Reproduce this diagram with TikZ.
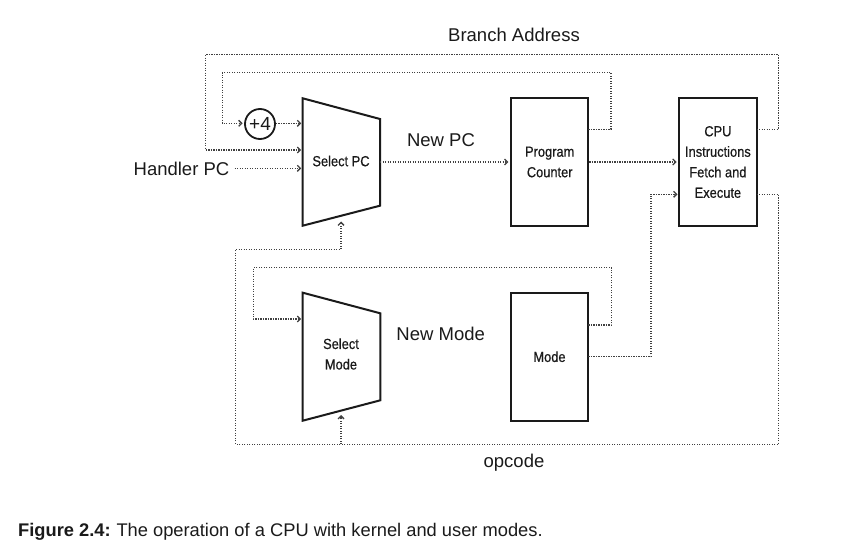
\documentclass[tikz,border=0pt]{standalone}
\usepackage{fontspec}
\setmainfont{Liberation Sans}
\newfontfamily\narrowfont[FakeStretch=0.88,FakeBold=0.6]{Liberation Sans}
\usetikzlibrary{arrows.meta}
\definecolor{ink}{HTML}{1A1A1A}
\definecolor{dotc}{HTML}{404040}
\tikzset{
  x=1bp, y=-1bp,
  blk/.style={draw=ink, line width=2bp},
  boxnode/.style={blk, minimum width=77.5bp, minimum height=127.4bp, inner sep=0pt,
    font=\narrowfont\fontsize{14.6bp}{20.5bp}\selectfont, align=center, text=ink},
  lbl/.style={font=\fontsize{18.5bp}{22bp}\selectfont, text=ink, inner sep=0pt},
  mlbl/.style={font=\narrowfont\fontsize{14.6bp}{20.5bp}\selectfont, text=ink, align=center, inner sep=0pt},
  conn/.style={draw=dotc, line width=1.3bp, dash pattern=on 1.2bp off 1.3bp,
    -{Straight Barb[length=3bp,width=6bp,line width=1.3bp]}, shorten >=1.5bp},
}
\begin{document}
\begin{tikzpicture}
\useasboundingbox (0,0) rectangle (845,559);

% Select PC trapezoid
\coordinate (spcTL) at (302.7,98.3);
\coordinate (spcTR) at (380,119);
\coordinate (spcBR) at (380,205.7);
\coordinate (spcBL) at (302.7,225.7);
\draw[blk, line join=miter] (spcTL) -- (spcTR) -- (spcBR) -- (spcBL) -- cycle;
\node[mlbl] (spc) at (341,161) {Select PC};
\coordinate (spcIn1) at (302.7,123.3);
\coordinate (spcIn2) at (302.7,150);
\coordinate (spcIn3) at (302.7,168.3);
\coordinate (spcOut) at (380,162);
\coordinate (spcBot) at (341,220);

% Select Mode trapezoid
\coordinate (smTL) at (302.7,292.7);
\coordinate (smTR) at (380.3,313.3);
\coordinate (smBR) at (380.3,400.3);
\coordinate (smBL) at (302.7,420.7);
\draw[blk, line join=miter] (smTL) -- (smTR) -- (smBR) -- (smBL) -- cycle;
\node[mlbl] (sm) at (341,354) {Select\\Mode};
\coordinate (smIn) at (302.7,319);
\coordinate (smOut) at (380.3,356.7);
\coordinate (smBot) at (341,413.5);

% Boxes
\node[boxnode] (pc) at (549.7,162) {Program\\Counter};
\node[boxnode] (cpu) at (717.9,162) {CPU\\Instructions\\Fetch and\\Execute};
\node[boxnode, minimum height=128bp] (mode) at (549.5,356.7) {Mode};

% +4 adder
\node[draw=ink, line width=1.8bp, circle, minimum size=30bp, inner sep=0pt,
  font=\fontsize{19bp}{22bp}\selectfont, text=ink] (add) at (260,124) {+4};

% Labels
\node[lbl] (branch) at (514,35) {Branch Address};
\node[lbl] (newpc) at (441,140) {New PC};
\node[lbl, anchor=east] (handler) at (229.5,168.5) {Handler PC};
\node[lbl] (newmode) at (440.7,334.3) {New Mode};
\node[lbl] (opcode) at (514,463) {opcode};
\node[lbl, anchor=west, font=\fontsize{18.3bp}{22bp}\selectfont] (caption) at (18,531.5)
  {\textbf{Figure 2.4:}\hspace{-1bp} The operation of a CPU with kernel and user modes.};

% Waypoints
\coordinate (pcLoop) at (588.3,129.3);
\coordinate (cpuLoop) at (756.7,129.3);
\coordinate (cpuIn2) at (679,194.3);
\coordinate (cpuOut2) at (756.7,194.3);
\coordinate (modeLoop) at (588.3,325);
\coordinate (modeOut) at (588.3,356.7);
\coordinate (fork) at (341,444.3);

% Connectors
\draw[conn] (pcLoop) -- (611,129.3) -- (611,72.7) -- (222.3,72.7) -- (222.3,123.3) -- (add.west |- 0,123.3);
\draw[conn] (add.east |- 0,123.3) -- (spcIn1);
\draw[conn] (cpuLoop) -- (778.5,129.3) -- (778.5,54.5) -- (205.7,54.5) -- (205.7,150) -- (spcIn2);
\draw[conn] (234.5,168.3) -- (spcIn3);
\draw[conn] (spcOut) -- (pc.west |- spcOut);
\draw[conn] (pc.east) -- (cpu.west);
\draw[conn] (modeOut) -- (651,356.7) -- (651,194.3) -- (cpuIn2);
\draw[conn] (cpuOut2) -- (778.5,194.3) -- (778.5,444.3) -- (235.7,444.3) -- (235.7,249.3) -- (341,249.3) -- (spcBot);
\draw[conn] (fork) -- (smBot);
\draw[conn] (modeLoop) -- (611.7,325) -- (611.7,267.7) -- (253.3,267.7) -- (253.3,319) -- (smIn);
\end{tikzpicture}
\end{document}
